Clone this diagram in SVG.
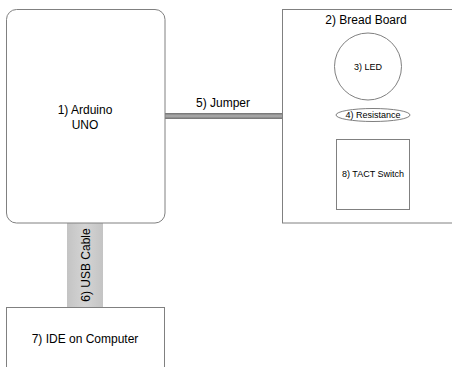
<svg xmlns="http://www.w3.org/2000/svg" width="452" height="367" viewBox="0 0 452 367">
<defs>
<linearGradient id="jg" x1="0" y1="0" x2="0" y2="1">
<stop offset="0" stop-color="#707070"/>
<stop offset="0.5" stop-color="#b0b0b0"/>
<stop offset="1" stop-color="#707070"/>
</linearGradient>
<linearGradient id="ug" x1="0" y1="0" x2="1" y2="0">
<stop offset="0" stop-color="#c4c4c4"/>
<stop offset="0.5" stop-color="#d4d4d4"/>
<stop offset="1" stop-color="#c4c4c4"/>
</linearGradient>
<style>
.box{fill:#fff;stroke:#808080;stroke-width:1}
.t{font-family:"Liberation Sans",Arial,sans-serif;fill:#000;text-anchor:middle}
.l{font-size:12px}
.s{font-size:9px}
</style>
</defs>
<rect width="452" height="367" fill="#fff"/>
<g id="connectors">
<rect x="165" y="113" width="117" height="6" fill="url(#jg)"/>
<rect x="67" y="223" width="36" height="84" fill="url(#ug)"/>
<text class="t l" x="223" y="107">5) Jumper</text>
<text class="t l" transform="translate(89.5 265) rotate(-90)">6) USB Cable</text>
</g>
<g id="arduino">
<rect class="box" x="6.5" y="9.5" width="158.5" height="213.5" rx="10"/>
<text class="t l" x="85" y="114">1) Arduino</text>
<text class="t l" x="85" y="129">UNO</text>
</g>
<g id="breadboard">
<rect class="box" x="282.5" y="9.5" width="180" height="213.5"/>
<text class="t l" x="366" y="24">2) Bread Board</text>
</g>
<g id="led">
<circle class="box" cx="368" cy="66.5" r="33.5"/>
<text class="t s" x="368" y="70">3) LED</text>
</g>
<g id="resistance">
<ellipse class="box" cx="373" cy="115" rx="37" ry="6.5"/>
<text class="t s" x="373" y="118.3">4) Resistance</text>
</g>
<g id="tact">
<rect class="box" x="336.5" y="139.5" width="73" height="70"/>
<text class="t s" x="373" y="177">8) TACT Switch</text>
</g>
<g id="ide">
<rect class="box" x="6.5" y="307.5" width="158" height="70"/>
<text class="t l" x="85" y="343">7) IDE on Computer</text>
</g>
</svg>
